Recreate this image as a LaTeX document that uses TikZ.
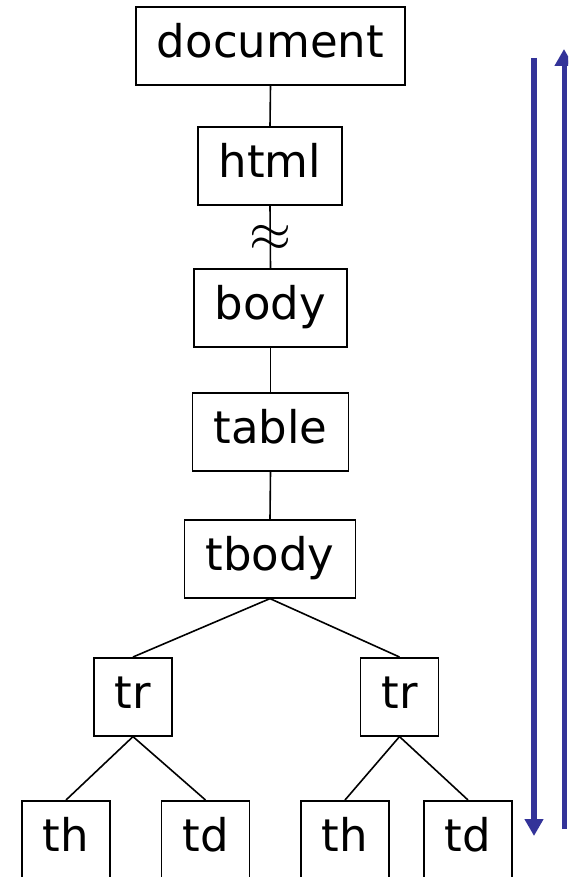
\documentclass[tikz,border=0pt]{standalone}
\usepackage{fontspec}
\setmainfont{DejaVu Sans}
\usetikzlibrary{arrows.meta}

\definecolor{walk}{RGB}{51,51,153}

\tikzset{
  tag/.style={draw, line width=1.6pt, font=\fontsize{45}{54}\selectfont,
    text height=34pt, text depth=10pt, inner xsep=21pt, inner ysep=17pt, anchor=north},
  leaf/.style={tag, text depth=22pt},
  edge/.style={line width=1.6pt},
  pass/.style={line width=6pt, color=walk, -{Triangle[width=18pt,length=17pt]}}
}

\begin{document}
\begin{tikzpicture}[x=1pt,y=-1pt]
\useasboundingbox (0,0) rectangle (568,877);
\clip (0,0) rectangle (568,877);

\node[tag] (doc) at (270.5,6) {document};
\node[tag] (html) at (270,126) {html};
\node[tag] (body) at (270.5,268) {body};
\node[tag] (table) at (270.5,392) {table};
\node[tag] (tbody) at (270,519) {tbody};
\node[tag] (trl) at (133,657) {tr};
\node[tag] (trr) at (399.5,657) {tr};
\node[leaf] (thl) at (66,800) {th};
\node[leaf] (tdl) at (205.5,800) {td};
\node[leaf] (thr) at (345,800) {th};
\node[leaf] (tdr) at (468,800) {td};

\foreach \from/\to in {doc/html, body/table, table/tbody, tbody/trl, tbody/trr, trl/thl, trl/tdl, trr/thr, trr/tdr}
	\draw[edge] (\from.south) -- (\to.north);

% skipped levels
\draw[edge] (html.south) -- node[inner sep=0pt, yshift=-2pt] (gap) {\scalebox{5.4}{$\approx$}} (body.north);

% walk down and back up
\coordinate (downtop) at (534,58);
\coordinate (downend) at (534,836);
\coordinate (upbot) at (564,829);
\coordinate (upend) at (564,49);

\draw[pass] (downtop) -- (downend);
\draw[pass, line width=5pt] (upbot) -- (upend);

\end{tikzpicture}
\end{document}
